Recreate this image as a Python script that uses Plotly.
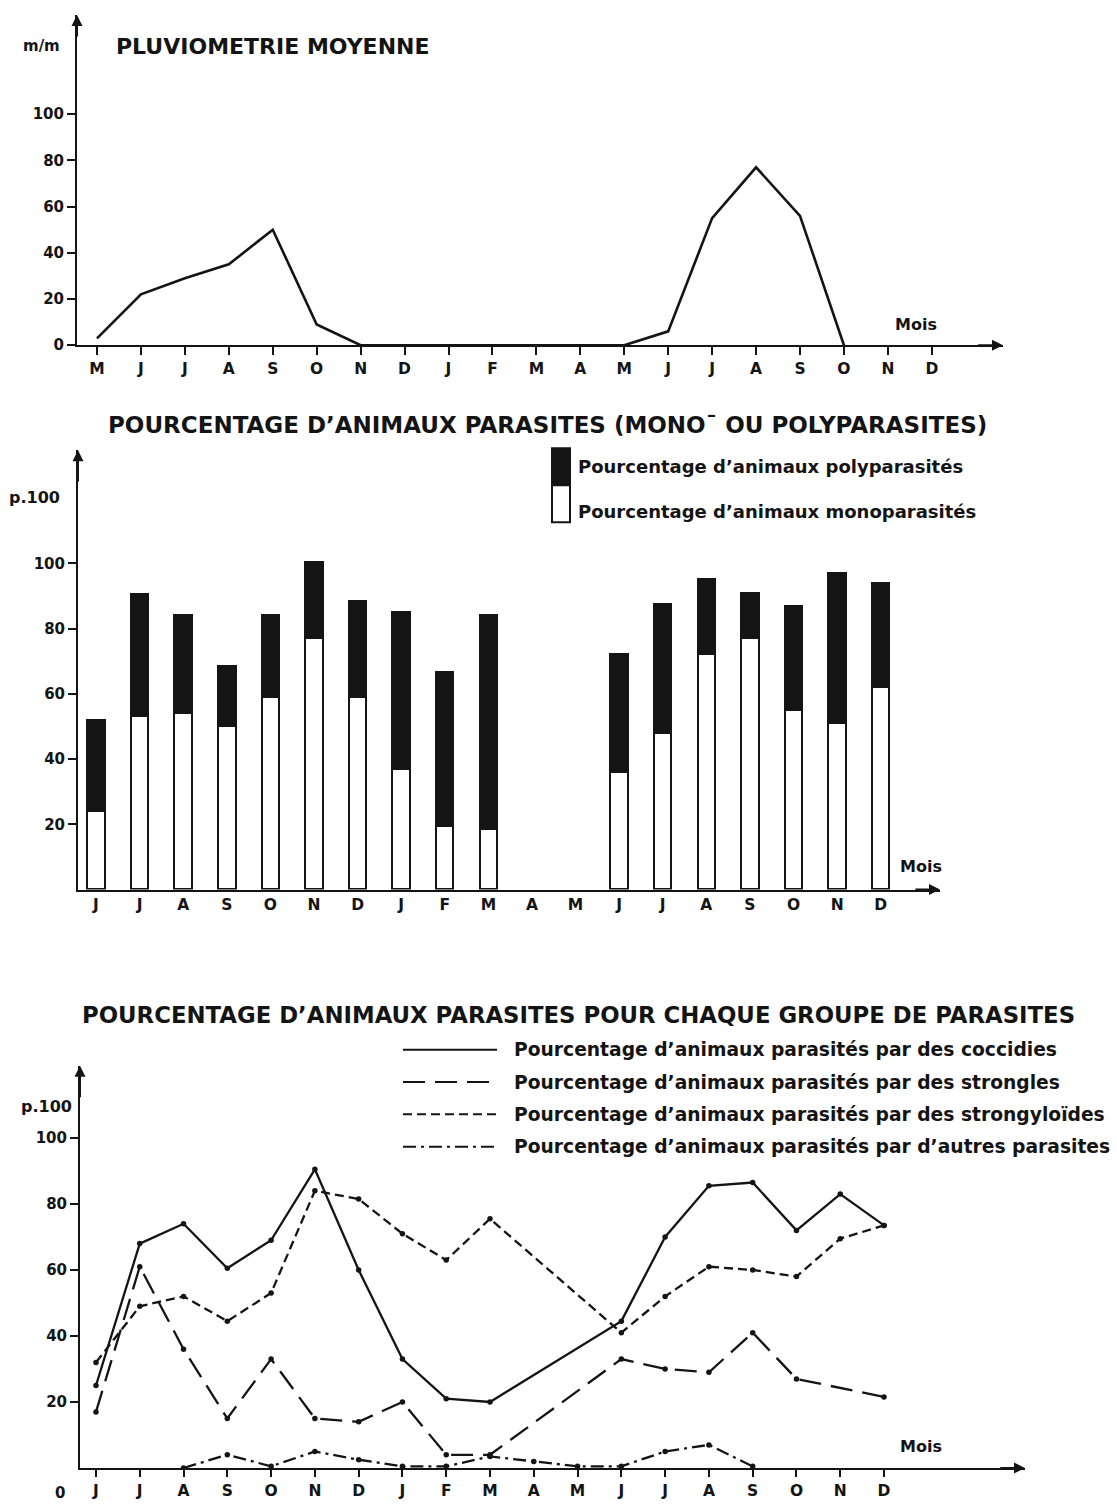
import plotly.graph_objects as go

W = 1117
H_REF = 1504          # reference picture height (layout positions are read on it)
H = 1514              # figure height (the capture is rescaled to 1504 rows)

# ---------------- data ----------------
rain_months = ["M", "J", "J", "A", "S", "O", "N", "D", "J", "F",
               "M", "A", "M", "J", "J", "A", "S", "O", "N", "D"]
rain_mm = [3, 22, 29, 35, 50, 9, 0, 0, 0, 0,
           0, 0, 0, 6, 55, 77, 56, 0, None, None]

par_months = ["J", "J", "A", "S", "O", "N", "D", "J", "F", "M",
              "A", "M", "J", "J", "A", "S", "O", "N", "D"]
mono_pct = [24, 53, 54, 50, 59, 77, 59, 37, 19.5, 18.5,
            None, None, 36, 48, 72, 77, 55, 51, 62]
total_pct = [52, 90.5, 84, 68.5, 84, 100.5, 88.5, 85, 66.5, 84,
             None, None, 72, 87.5, 95, 91, 87, 97, 94]

coccidies = [25, 68, 74, 60.5, 69, 90.5, 60, 33, 21, 20,
             None, None, 44.5, 70, 85.5, 86.5, 72, 83, 73.5]
strongles = [17, 61, 36, 15, 33, 15, 14, 20, 4, 4,
             None, None, 33, 30, 29, 41, 27, None, 21.5]
strongyloides = [32, 49, 52, 44.5, 53, 84, 81.5, 71, 63, 75.5,
                 None, None, 41, 52, 61, 60, 58, 69.5, 73.5]
autres = [None, None, 0, 4, 0.5, 5, 2.5, 0.5, 0.5, 3.5,
          2, 0.5, 0.5, 5, 7, 0.5, None, None, None]

rain_ticks = [0, 20, 40, 60, 80, 100]
pct_ticks = [20, 40, 60, 80, 100]

legend_bars = ["Pourcentage d\u2019animaux polyparasit\u00e9s",
               "Pourcentage d\u2019animaux monoparasit\u00e9s"]
legend_lines = ["Pourcentage d\u2019animaux parasit\u00e9s par des coccidies",
                "Pourcentage d\u2019animaux parasit\u00e9s par des strongles",
                "Pourcentage d\u2019animaux parasit\u00e9s par des strongylo\u00efdes",
                "Pourcentage d\u2019animaux parasit\u00e9s par d\u2019autres parasites"]

poly_pct = [None if (t is None or m is None) else t - m
            for t, m in zip(total_pct, mono_pct)]

# ---------------- helpers ----------------
def px(x):
    return x / W


def py(y):
    return 1 - y / H_REF


FONT = "DejaVu Sans"
INK = "#141414"

xr = list(range(len(rain_months)))
xp = list(range(len(par_months)))

fig = go.Figure()

# top: rainfall
fig.add_trace(go.Scatter(x=xr, y=rain_mm, mode="lines",
                         line=dict(color=INK, width=2.6),
                         xaxis="x", yaxis="y", showlegend=False,
                         hoverinfo="skip"))

# middle: stacked bars (white = mono, black = poly)
fig.add_trace(go.Bar(x=xp, y=mono_pct, width=0.4,
                     marker=dict(color="white", line=dict(color=INK, width=2.4)),
                     xaxis="x2", yaxis="y2", showlegend=False))
fig.add_trace(go.Bar(x=xp, y=poly_pct, width=0.4,
                     marker=dict(color=INK, line=dict(color=INK, width=2.4)),
                     xaxis="x2", yaxis="y2", showlegend=False))

# bottom: parasite groups
dashes = ["solid", "22px,10px", "9px,5px", "13px,5px,3px,5px"]
for vals, dash in zip([coccidies, strongles, strongyloides, autres], dashes):
    fig.add_trace(go.Scatter(x=xp, y=vals, mode="lines+markers",
                             connectgaps=True,
                             line=dict(color=INK, width=2.3, dash=dash),
                             marker=dict(size=5.5, color=INK),
                             xaxis="x3", yaxis="y3", showlegend=False))

xtickfont = dict(family=FONT, size=15.5, color=INK, weight="bold")
ytickfont = dict(family=FONT, size=15, color=INK, weight="bold")


def xaxis_cfg(dom, rng, vals, text, anchor, ticks, ticklen):
    return dict(domain=dom, range=rng, tickmode="array", tickvals=vals,
                ticktext=text, ticks=ticks, ticklen=ticklen, tickwidth=1.6,
                tickcolor=INK, showline=True, linewidth=2, linecolor=INK,
                showgrid=False, zeroline=False, anchor=anchor,
                tickfont=xtickfont, fixedrange=True)


def yaxis_cfg(dom, rng, vals, anchor):
    return dict(domain=dom, range=rng, tickmode="array", tickvals=vals,
                ticks="outside", ticklen=8, tickwidth=1.6, tickcolor=INK,
                showline=True, linewidth=2, linecolor=INK, showgrid=False,
                zeroline=False, anchor=anchor, tickfont=ytickfont,
                fixedrange=True)


x1_rng = [-0.455, 20.62]
y1_rng = [0, 142.9]
x2_rng = [-0.413, 19.36]
y2_rng = [0, 134.7]
x3_rng = [-0.365, 21.22]
y3_rng = [0, 121.9]

fig.update_layout(
    width=W, height=H, autosize=False,
    margin=dict(l=0, r=0, t=0, b=0),
    paper_bgcolor="white", plot_bgcolor="white",
    barmode="stack", bargap=0,
    showlegend=False,
    xaxis=xaxis_cfg([px(77), px(1003)], x1_rng, xr, rain_months, "y", "outside", 8),
    yaxis=yaxis_cfg([py(345), py(15)], y1_rng, rain_ticks, "x"),
    xaxis2=xaxis_cfg([px(78), px(940)], x2_rng, xp, par_months, "y2", "", 0),
    yaxis2=yaxis_cfg([py(889), py(450)], y2_rng, pct_ticks, "x2"),
    xaxis3=xaxis_cfg([px(80), px(1025)], x3_rng, xp, par_months, "y3", "outside", 7),
    yaxis3=yaxis_cfg([py(1467), py(1065)], y3_rng, pct_ticks, "x3"),
)

ann = []


def text(s, x, y, size, xanchor="left"):
    ann.append(dict(text=s, x=px(x), y=py(y), xref="paper", yref="paper",
                    xanchor=xanchor, yanchor="middle", showarrow=False,
                    font=dict(family=FONT, size=size, color=INK, weight="bold")))


def arrow(xref, yref, x, y, ax, ay):
    ann.append(dict(text="", x=x, y=y, ax=ax, ay=ay, xref=xref, yref=yref,
                    axref=xref, ayref=yref, showarrow=True, arrowhead=2,
                    arrowsize=1.1, arrowwidth=2, arrowcolor=INK, standoff=0))


# top panel
text("m/m", 41, 46, 15, "center")
text("PLUVIOMETRIE MOYENNE", 114, 46, 22)
text("Mois", 893, 324, 16)
arrow("x", "y", x1_rng[1], 0, x1_rng[1] - 0.6, 0)
arrow("x", "y", x1_rng[0], y1_rng[1], x1_rng[0], y1_rng[1] - 10)

# middle panel
text("POURCENTAGE D\u2019ANIMAUX PARASITES (MONO\u00af OU POLYPARASITES)", 106, 425, 23)
text("p.100", 34, 497, 16, "center")
text("Mois", 898, 866, 16)
text(legend_bars[0], 576, 466, 18)
text(legend_bars[1], 576, 511, 18)
arrow("x2", "y2", x2_rng[1], 0, x2_rng[1] - 0.6, 0)
arrow("x2", "y2", x2_rng[0], y2_rng[1], x2_rng[0], y2_rng[1] - 10)

# bottom panel
text("POURCENTAGE D\u2019ANIMAUX PARASITES POUR CHAQUE GROUPE DE PARASITES", 80, 1014, 22.8)
text("p.100", 46, 1106, 16, "center")
text("0", 60, 1492, 15, "center")
text("Mois", 898, 1446, 16)
for i, lab in enumerate(legend_lines):
    text(lab, 512, 1049 + i * 32.3, 18.7)
arrow("x3", "y3", x3_rng[1], 0, x3_rng[1] - 0.6, 0)
arrow("x3", "y3", x3_rng[0], y3_rng[1], x3_rng[0], y3_rng[1] - 10)

fig.update_layout(annotations=ann)

# legend swatches
shapes = [
    dict(type="rect", xref="paper", yref="paper", x0=px(552), x1=px(570),
         y0=py(485), y1=py(448), fillcolor=INK, line=dict(color=INK, width=2)),
    dict(type="rect", xref="paper", yref="paper", x0=px(552), x1=px(570),
         y0=py(522), y1=py(485), fillcolor="white", line=dict(color=INK, width=2)),
]
for i, dash in enumerate(dashes):
    yy = py(1049 + i * 32.3)
    shapes.append(dict(type="line", xref="paper", yref="paper", x0=px(403),
                       x1=px(497), y0=yy, y1=yy,
                       line=dict(color=INK, width=2, dash=dash)))
fig.update_layout(shapes=shapes)

page_css = ("document.documentElement.style.margin='0';"
            "document.documentElement.style.overflow='hidden';"
            "document.body.style.margin='0';"
            "document.body.style.overflow='hidden';")

fig.write_html("out.html", post_script=page_css, config={"displayModeBar": False})
